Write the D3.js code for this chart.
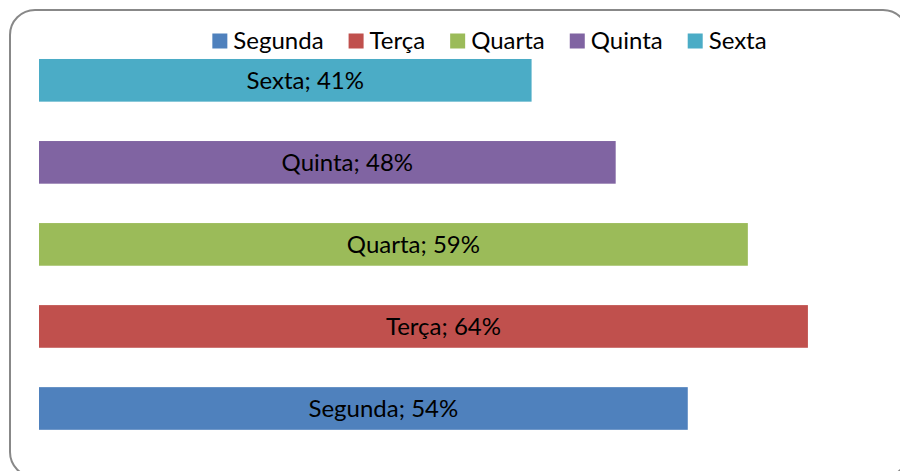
<!DOCTYPE html>
<html lang="pt">
<head>
  <meta charset="utf-8" />
  <style>
    body { margin: 0; background: #fff; }
    text { font-family: Lato, "Open Sans", sans-serif; fill: #000; }
  </style>
</head>
<body>
<svg width="900" height="471"></svg>
<script src="https://d3js.org/d3.v7.min.js"></script>
<script>
// days from bottom to top, as in the chart
var days = ["Segunda", "Terça", "Quarta", "Quinta", "Sexta"],
    values = [0.54, 0.64, 0.59, 0.48, 0.41],
    colors = ["#4f81bd", "#c0504d", "#9bbb59", "#8064a2", "#4bacc6"];

var svg = d3.select("svg"),
    fontSize = 24;

// chart frame
svg.append("rect")
  .attr("x", 10)
  .attr("y", 10)
  .attr("width", 898)
  .attr("height", 467)
  .attr("rx", 25)
  .attr("fill", "#fff")
  .attr("stroke", "#888")
  .attr("stroke-width", 2);

var x = d3.scaleLinear()
  .domain([0, 0.7])
  .range([39, 880]);

var y = d3.scaleBand()
  .domain(days.slice().reverse())
  .range([39.3, 449.5])
  .paddingInner(0.48)
  .paddingOuter(0.24);

var bars = svg.append("g")
  .selectAll("g")
  .data(days)
  .enter()
  .append("g");

bars.append("rect")
  .attr("x", x(0))
  .attr("y", function(d) { return y(d); })
  .attr("width", function(d, i) { return x(values[i]) - x(0); })
  .attr("height", y.bandwidth())
  .attr("fill", function(d, i) { return colors[i]; });

bars.append("text")
  .attr("x", function(d, i) { return (x(0) + x(values[i])) / 2 + 20; })
  .attr("y", function(d) { return y(d) + y.bandwidth() / 2 + fontSize * 0.35; })
  .attr("text-anchor", "middle")
  .style("font-size", fontSize + "px")
  .text(function(d, i) { return d + "; " + d3.format(".0%")(values[i]); });

// legend, laid out left to right and centred
var legend = svg.append("g"),
    cursor = 0;

days.forEach(function(d, i) {
  var item = legend.append("g").attr("transform", "translate(" + cursor + ",0)");
  item.append("rect")
    .attr("x", 0)
    .attr("y", 33.5)
    .attr("width", 15)
    .attr("height", 15)
    .attr("fill", colors[i]);
  var t = item.append("text")
    .attr("x", 21)
    .attr("y", 49)
    .style("font-size", fontSize + "px")
    .text(d);
  cursor += 21 + t.node().getComputedTextLength() + 25;
});

var legendWidth = cursor - 25;
legend.attr("transform", "translate(" + (489.5 - legendWidth / 2) + ",0)");
</script>
</body>
</html>
